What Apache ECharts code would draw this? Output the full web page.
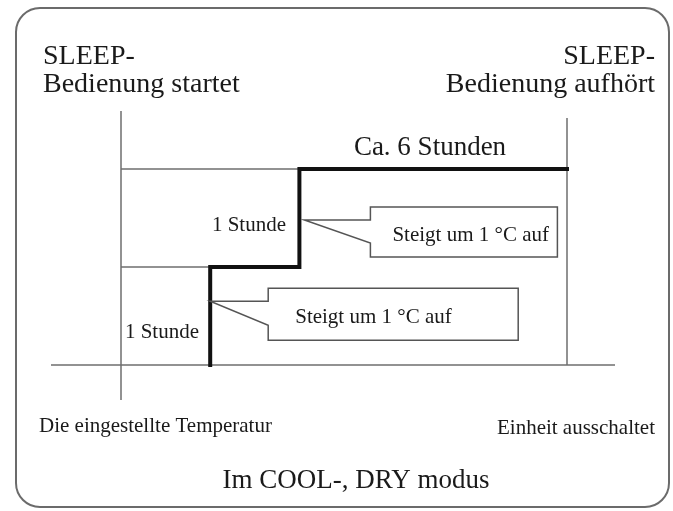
<!DOCTYPE html>
<html>
<head>
<meta charset="utf-8">
<script src="https://cdn.jsdelivr.net/npm/echarts@6/dist/echarts.min.js"></script>
<style>
  html, body { margin: 0; padding: 0; background: #fff; }
  #chart { width: 673px; height: 511px; }
</style>
</head>
<body>
<div id="chart"></div>
<script>
// Stunden nach Start, an denen die Temperatur steigt
const stepHours = [1, 2];
// Anstieg über der eingestellten Temperatur (°C)
const riseLevels = [1, 2];
// schematisches Ende der SLEEP-Bedienung (ca. 6 Stunden)
const endHour = 5;
// Sprechblasen: Zeitpunkt und Höhe der Spitze
const calloutHours = [1, 2];
const calloutLevels = [0.65, 1.48];
const calloutTexts = ["Steigt um 1 °C auf", "Steigt um 1 °C auf"];
const hourLabels = ["1 Stunde", "1 Stunde"];

const serif = '"Liberation Serif", "Times New Roman", serif';
const ink = "#1a1a1a";
const thin = "#6e6e6e";

// Treppenlinie
let stepData = [];
let prev = 0;
stepHours.forEach(function (h, i) {
  stepData.push([h, prev]);
  stepData.push([h, riseLevels[i]]);
  prev = riseLevels[i];
});
stepData.push([endHour, prev]);

// dünne Linien von der Startlinie bis zur jeweiligen Stufe
const levelSeries = riseLevels.map(function (lv, i) {
  return {
    type: "line",
    z: 2,
    clip: false,
    symbol: "none",
    silent: true,
    lineStyle: { color: thin, width: 1.5 },
    data: [[0, lv], [stepHours[i], lv]]
  };
});

// Geometrie der Sprechblasen (Pixel relativ zur Spitze)
const boxGeo = [
  { dx: 0, left: 58, top: -13, w: 250, h: 52, tail: 24, tx: 27, ty: 29 },
  { dx: 5, left: 66, top: -13, w: 187, h: 50, tail: 23, tx: 22, ty: 29 }
];

const chart = echarts.init(document.getElementById("chart"), null, { renderer: "canvas" });

chart.setOption({
  animation: false,
  backgroundColor: "#fff",
  grid: { left: 121, right: 106, top: 169, bottom: 146 },
  xAxis: { type: "value", min: 0, max: endHour, show: false },
  yAxis: { type: "value", min: 0, max: riseLevels[riseLevels.length - 1], show: false },
  graphic: [
    {
      type: "rect",
      shape: { x: 16, y: 8, width: 653, height: 499, r: 24 },
      style: { fill: "none", stroke: "#6b6b6b", lineWidth: 2 }
    },
    {
      type: "text", x: 43, y: 43,
      style: { text: "SLEEP-\nBedienung startet", font: "28px " + serif, lineHeight: 28, fill: ink, align: "left", verticalAlign: "top" }
    },
    {
      type: "text", x: 655, y: 43,
      style: { text: "SLEEP-\nBedienung aufhört", font: "28px " + serif, lineHeight: 28, fill: ink, align: "right", verticalAlign: "top" }
    },
    {
      type: "text", x: 430, y: 148,
      style: { text: "Ca. 6 Stunden", font: "27px " + serif, fill: ink, align: "center", verticalAlign: "middle" }
    },
    {
      type: "text", x: 199, y: 332,
      style: { text: hourLabels[0], font: "21px " + serif, fill: ink, align: "right", verticalAlign: "middle" }
    },
    {
      type: "text", x: 286, y: 225,
      style: { text: hourLabels[1], font: "21px " + serif, fill: ink, align: "right", verticalAlign: "middle" }
    },
    {
      type: "text", x: 39, y: 426,
      style: { text: "Die eingestellte Temperatur", font: "21px " + serif, fill: ink, align: "left", verticalAlign: "middle" }
    },
    {
      type: "text", x: 655, y: 428,
      style: { text: "Einheit ausschaltet", font: "21px " + serif, fill: ink, align: "right", verticalAlign: "middle" }
    },
    {
      type: "text", x: 356, y: 481,
      style: { text: "Im COOL-, DRY modus", font: "27px " + serif, fill: ink, align: "center", verticalAlign: "middle" }
    }
  ],
  series: [
    {
      // Start-, Endlinie und Zeitachse
      type: "custom",
      z: 1,
      silent: true,
      data: [[0, 0]],
      renderItem: function (params, api) {
        const top = riseLevels[riseLevels.length - 1];
        const s0 = api.coord([0, 0]);
        const sTop = api.coord([0, top]);
        const e0 = api.coord([endHour, 0]);
        const st = { stroke: thin, lineWidth: 1.5 };
        return {
          type: "group",
          children: [
            { type: "line", shape: { x1: s0[0], y1: sTop[1] - 58, x2: s0[0], y2: s0[1] + 35 }, style: st },
            { type: "line", shape: { x1: e0[0], y1: sTop[1] - 51, x2: e0[0], y2: e0[1] }, style: st },
            { type: "line", shape: { x1: s0[0] - 70, y1: s0[1], x2: e0[0] + 48, y2: s0[1] }, style: st }
          ]
        };
      }
    }
  ].concat(levelSeries).concat([
    {
      type: "line",
      z: 3,
      clip: false,
      symbol: "none",
      silent: true,
      lineStyle: { color: "#111", width: 4, cap: "square", join: "miter" },
      data: stepData
    },
    {
      // Sprechblasen
      type: "custom",
      z: 4,
      silent: true,
      data: calloutHours.map(function (h, i) { return [h, calloutLevels[i], i]; }),
      renderItem: function (params, api) {
        const i = api.value(2);
        const g = boxGeo[i];
        const p = api.coord([api.value(0), api.value(1)]);
        const tx = p[0] + g.dx, ty = p[1];
        const bx = tx + g.left, by = ty + g.top;
        return {
          type: "group",
          children: [
            {
              type: "polygon",
              shape: { points: [[tx, ty], [bx, ty], [bx, by], [bx + g.w, by], [bx + g.w, by + g.h], [bx, by + g.h], [bx, ty + g.tail]] },
              style: { fill: "#fff", stroke: "#555", lineWidth: 1.5 }
            },
            {
              type: "text",
              style: { text: calloutTexts[i], x: bx + g.tx, y: by + g.ty, font: "21px " + serif, fill: ink, align: "left", verticalAlign: "middle" }
            }
          ]
        };
      }
    }
  ])
});
</script>
</body>
</html>
